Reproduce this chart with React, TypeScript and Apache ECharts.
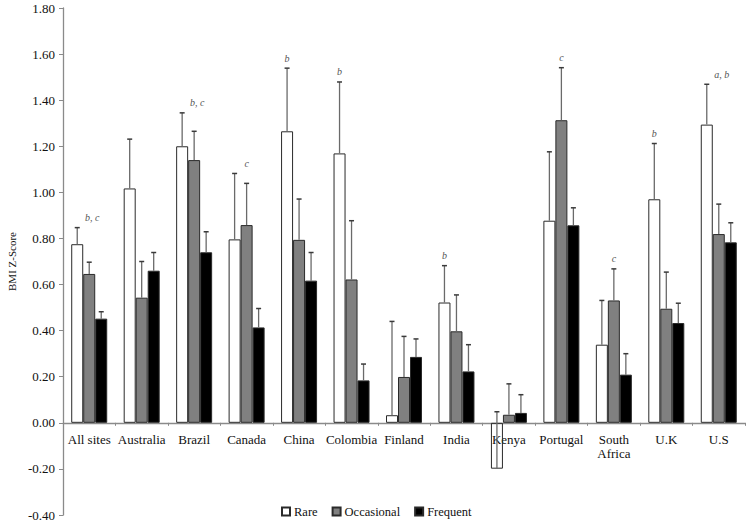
import React, { useEffect, useRef } from "react";
import * as echarts from "echarts";

const categories = [
  "All sites", "Australia", "Brazil", "Canada", "China", "Colombia", "Finland",
  "India", "Kenya", "Portugal", "South\nAfrica", "U.K", "U.S",
];
const seriesNames = ["Rare", "Occasional", "Frequent"];

const rareValues = [0.775, 1.017, 1.2, 0.796, 1.265, 1.169, 0.033, 0.522, -0.199, 0.877, 0.339, 0.97, 1.294];
const rareErrors = [0.072, 0.214, 0.145, 0.286, 0.274, 0.31, 0.407, 0.16, 0.247, 0.299, 0.192, 0.242, 0.175];

const occasionalValues = [0.646, 0.543, 1.14, 0.858, 0.794, 0.622, 0.199, 0.397, 0.035, 1.313, 0.531, 0.495, 0.819];
const occasionalErrors = [0.051, 0.157, 0.125, 0.181, 0.177, 0.255, 0.176, 0.158, 0.134, 0.228, 0.137, 0.159, 0.13];

const frequentValues = [0.452, 0.66, 0.74, 0.414, 0.617, 0.184, 0.286, 0.223, 0.043, 0.857, 0.209, 0.433, 0.783];
const frequentErrors = [0.03, 0.079, 0.089, 0.082, 0.122, 0.071, 0.078, 0.116, 0.079, 0.076, 0.091, 0.086, 0.085];

// significance letters per site; anchor: 0 = over Rare bar, 1 = over Occasional bar
const annotationTexts = ["b, c", "", "b, c", "c", "b", "b", "", "b", "", "c", "c", "b", "a, b"];
const annotationAnchors = [1, 1, 1, 1, 0, 0, 1, 0, 1, 1, 1, 0, 1];

const yMin = -0.4;
const yMax = 1.8;
const yInterval = 0.2;

const FONT = "Liberation Serif, Times New Roman, serif";
const BAR_W = 12;
const GRID_TOP = 8;
const GRID_BOTTOM = 6;
const HEIGHT = 521;

export default function App() {
  const ref = useRef<HTMLDivElement>(null);

  useEffect(() => {
    if (!ref.current) return;
    const chart = echarts.init(ref.current, undefined, { renderer: "svg" });

    const values = [rareValues, occasionalValues, frequentValues];
    const errors = [rareErrors, occasionalErrors, frequentErrors];
    const fills = ["rgba(255,255,255,0)", "#808080", "#000000"];

    const barSeries = seriesNames.map((name, s) => ({
      name,
      type: "bar",
      data: values[s],
      barWidth: BAR_W,
      barGap: "0%",
      itemStyle: { color: fills[s], borderColor: "#2a2a2a", borderWidth: 1 },
      z: 2,
    }));

    const errSeries = seriesNames.map((name, s) => ({
      type: "custom",
      name: name + " error",
      z: 3,
      clip: false,
      data: values[s].map((v, i) => [i, v, v + errors[s][i]]),
      encode: { x: 0, y: [1, 2] },
      renderItem: (params: any, api: any) => {
        const cat = api.value(0);
        const v = api.value(1);
        const top = api.value(2);
        const p0 = api.coord([cat, v]);
        const p1 = api.coord([cat, top]);
        const x = p0[0] + (s - 1) * BAR_W;
        return {
          type: "group",
          children: [
            { type: "line", shape: { x1: x, y1: p0[1], x2: x, y2: p1[1] }, style: { stroke: "#6a6a6a", lineWidth: 1.3 } },
            { type: "line", shape: { x1: x - 2.5, y1: p1[1], x2: x + 2.5, y2: p1[1] }, style: { stroke: "#3a3a3a", lineWidth: 1.5 } },
          ],
        };
      },
    }));

    const annotData = categories.map((_, i) => {
      const maxTop = Math.max(
        rareValues[i] + rareErrors[i],
        occasionalValues[i] + occasionalErrors[i],
        frequentValues[i] + frequentErrors[i]
      );
      return [i, maxTop, annotationAnchors[i]];
    });

    const annotSeries = {
      type: "custom",
      name: "annotations",
      z: 4,
      clip: false,
      data: annotData,
      encode: { x: 0, y: 1 },
      renderItem: (params: any, api: any) => {
        const i = params.dataIndex;
        const txt = annotationTexts[i];
        if (!txt) return null;
        const p = api.coord([api.value(0), api.value(1)]);
        const anchor = api.value(2);
        const x = p[0] + (anchor === 0 ? -BAR_W : txt.length > 1 ? 3 : 0);
        return {
          type: "text",
          x,
          y: p[1] - 10,
          style: {
            text: txt,
            fill: "#555",
            fontSize: 10,
            fontStyle: "italic",
            fontFamily: FONT,
            align: "center",
            verticalAlign: "middle",
          },
        };
      },
    };

    // x axis sits at value 0: offset it up from the grid bottom by the share of the range below zero
    const gridH = HEIGHT - GRID_TOP - GRID_BOTTOM;
    const zeroOffset = -gridH * ((0 - yMin) / (yMax - yMin));

    chart.setOption({
      animation: false,
      backgroundColor: "#ffffff",
      textStyle: { fontFamily: FONT },
      grid: { left: 63, right: 3, top: GRID_TOP, bottom: GRID_BOTTOM, containLabel: false, outerBoundsMode: "none" },
      legend: {
        data: seriesNames,
        left: 281,
        top: 505,
        padding: 0,
        itemWidth: 8,
        itemHeight: 8,
        itemGap: 14,
        icon: "rect",
        textStyle: { fontFamily: FONT, fontSize: 12.5, color: "#111", padding: [0, 0, 0, -1] },
      },
      xAxis: {
        type: "category",
        data: categories,
        position: "bottom",
        offset: zeroOffset,
        axisLine: { onZero: false, lineStyle: { color: "#8a8a8a", width: 1.3 } },
        axisTick: { show: true, length: 3, lineStyle: { color: "#8a8a8a" } },
        axisLabel: { interval: 0, margin: 10, fontFamily: FONT, fontSize: 13, color: "#111", lineHeight: 14 },
      },
      yAxis: {
        type: "value",
        min: yMin,
        max: yMax,
        interval: yInterval,
        name: "BMI Z-Score",
        nameLocation: "middle",
        nameRotate: 90,
        nameGap: 42,
        nameTextStyle: { fontFamily: FONT, fontSize: 11, color: "#111" },
        axisLine: { show: true, lineStyle: { color: "#8a8a8a", width: 1.3 } },
        axisTick: { show: true, length: 4, lineStyle: { color: "#8a8a8a" } },
        splitLine: { show: false },
        axisLabel: {
          fontFamily: FONT,
          fontSize: 13,
          color: "#111",
          margin: 8,
          formatter: (v: number) => v.toFixed(2),
        },
      },
      series: [...barSeries, ...errSeries, annotSeries],
    });

    return () => chart.dispose();
  }, []);

  return <div ref={ref} style={{ position: "fixed", left: 0, top: 0, width: 748, height: 521 }} />;
}
